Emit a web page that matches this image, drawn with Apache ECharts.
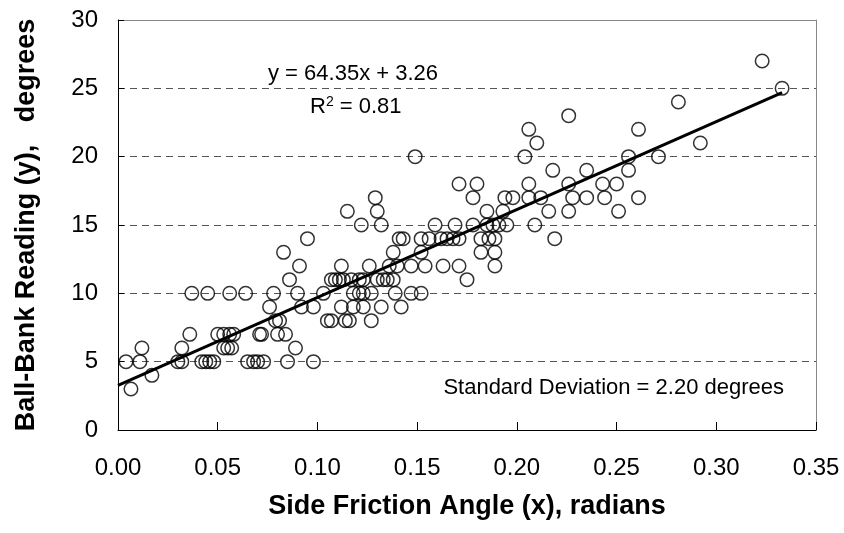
<!DOCTYPE html>
<html>
<head>
<meta charset="utf-8">
<script src="https://cdn.jsdelivr.net/npm/echarts@6/dist/echarts.min.js"></script>
<style>
html,body{margin:0;padding:0;background:#fff;}
#chart{width:844px;height:533px;}
</style>
</head>
<body>
<div id="chart"></div>
<script>
// ---- data ----
const sideFrictionAngle = [
  0.0065,
  0.017,
  0.004, 0.011, 0.030, 0.032, 0.042, 0.044, 0.046, 0.048, 0.065, 0.068, 0.070, 0.073, 0.085, 0.098,
  0.012, 0.032, 0.053, 0.055, 0.057, 0.089,
  0.036, 0.050, 0.053, 0.056, 0.058, 0.071, 0.072, 0.080, 0.084,
  0.079, 0.081, 0.105, 0.107, 0.114, 0.116, 0.127,
  0.076, 0.092, 0.098, 0.112, 0.118, 0.123, 0.132, 0.142,
  0.037, 0.045, 0.056, 0.064, 0.078, 0.090, 0.103, 0.118, 0.121, 0.123, 0.127, 0.139, 0.147, 0.152,
  0.086, 0.107, 0.109, 0.111, 0.113, 0.117, 0.121, 0.123, 0.130, 0.133, 0.135, 0.138, 0.175,
  0.091, 0.112, 0.126, 0.136, 0.140, 0.147, 0.154, 0.163, 0.171, 0.189,
  0.083, 0.138, 0.152, 0.182, 0.189,
  0.095, 0.141, 0.143, 0.152, 0.156, 0.162, 0.165, 0.168, 0.171, 0.182, 0.186, 0.189, 0.219,
  0.122, 0.132, 0.159, 0.169, 0.178, 0.185, 0.188, 0.191, 0.195, 0.209,
  0.115, 0.130, 0.185, 0.193, 0.216, 0.226, 0.251,
  0.129, 0.178, 0.194, 0.198, 0.206, 0.212, 0.228, 0.235, 0.244, 0.261,
  0.171, 0.180, 0.206, 0.226, 0.243, 0.250,
  0.218, 0.235, 0.256,
  0.149, 0.204, 0.256, 0.271,
  0.210, 0.292,
  0.206, 0.261,
  0.226,
  0.281,
  0.333,
  0.323
];
const ballBankReading = [
  3,
  4,
  5, 5, 5, 5, 5, 5, 5, 5, 5, 5, 5, 5, 5, 5,
  6, 6, 6, 6, 6, 6,
  7, 7, 7, 7, 7, 7, 7, 7, 7,
  8, 8, 8, 8, 8, 8, 8,
  9, 9, 9, 9, 9, 9, 9, 9,
  10, 10, 10, 10, 10, 10, 10, 10, 10, 10, 10, 10, 10, 10,
  11, 11, 11, 11, 11, 11, 11, 11, 11, 11, 11, 11, 11,
  12, 12, 12, 12, 12, 12, 12, 12, 12, 12,
  13, 13, 13, 13, 13,
  14, 14, 14, 14, 14, 14, 14, 14, 14, 14, 14, 14, 14,
  15, 15, 15, 15, 15, 15, 15, 15, 15, 15,
  16, 16, 16, 16, 16, 16, 16,
  17, 17, 17, 17, 17, 17, 17, 17, 17, 17,
  18, 18, 18, 18, 18, 18,
  19, 19, 19,
  20, 20, 20, 20,
  21, 21,
  22, 22,
  23,
  24,
  25,
  27
];
const regressionSlope = 64.35;
const regressionIntercept = 3.26;
const trendRangeX = [0, 0.333];
const xTicks = [0, 0.05, 0.10, 0.15, 0.20, 0.25, 0.30, 0.35];
const yTicks = [0, 5, 10, 15, 20, 25, 30];
const equationText = 'y = 64.35x + 3.26';
const rSquaredText = '0.81';
const stdDevText = 'Standard Deviation = 2.20 degrees';

// ---- build series data ----
const points = sideFrictionAngle.map((x, i) => [x, ballBankReading[i]]);
const trendLine = trendRangeX.map(x => [x, regressionSlope * x + regressionIntercept]);

const FONT = "'Liberation Sans', Arial, sans-serif";
const chart = echarts.init(document.getElementById('chart'), null, {renderer: 'canvas'});

chart.setOption({
  animation: false,
  backgroundColor: '#fff',
  textStyle: {fontFamily: FONT},
  grid: {left: 118, right: 28, top: 20, bottom: 103, containLabel: false},
  xAxis: [{
    type: 'value',
    min: xTicks[0], max: xTicks[xTicks.length - 1], interval: xTicks[1] - xTicks[0],
    axisLine: {lineStyle: {color: '#000', width: 1}},
    axisTick: {inside: true, length: 8, lineStyle: {color: '#000'}},
    axisLabel: {formatter: v => v.toFixed(2), fontSize: 24, color: '#000', margin: 26, fontFamily: FONT},
    splitLine: {show: false},
    name: 'Side Friction Angle (x), radians',
    nameLocation: 'middle', nameGap: 63,
    nameTextStyle: {fontWeight: 'bold', fontSize: 27, color: '#000', fontFamily: FONT}
  }, {
    type: 'value', position: 'top',
    min: xTicks[0], max: xTicks[xTicks.length - 1],
    axisLine: {show: true, onZero: false, lineStyle: {color: '#888', width: 1}},
    axisTick: {show: false}, axisLabel: {show: false}, splitLine: {show: false}
  }],
  yAxis: [{
    type: 'value',
    min: yTicks[0], max: yTicks[yTicks.length - 1], interval: yTicks[1] - yTicks[0],
    axisLine: {show: true, lineStyle: {color: '#000', width: 1}},
    axisTick: {show: true, inside: true, length: 6, lineStyle: {color: '#000'}},
    axisLabel: {fontSize: 24, color: '#000', margin: 20, fontFamily: FONT},
    splitLine: {show: true, lineStyle: {color: '#555', width: 1, type: [7, 5]}},
    name: 'Ball-Bank Reading (y),   degrees',
    nameLocation: 'middle', nameGap: 78, nameRotate: 90,
    nameTextStyle: {fontWeight: 'bold', fontSize: 27, color: '#000', fontFamily: FONT}
  }, {
    type: 'value', position: 'right',
    min: yTicks[0], max: yTicks[yTicks.length - 1],
    axisLine: {show: true, onZero: false, lineStyle: {color: '#888', width: 1}},
    axisTick: {show: false}, axisLabel: {show: false}, splitLine: {show: false}
  }],
  series: [{
    type: 'scatter',
    data: points,
    symbol: 'circle',
    symbolSize: 13.5,
    itemStyle: {color: 'rgba(255,255,255,0)', borderColor: '#000', borderWidth: 1.5},
    z: 2
  }, {
    type: 'line',
    data: trendLine,
    showSymbol: false, symbol: 'none',
    lineStyle: {color: '#000', width: 3},
    z: 3
  }],
  graphic: [{
    type: 'text', left: 268, top: 63,
    style: {text: equationText, fontSize: 22, fill: '#000', fontFamily: FONT}
  }, {
    type: 'text', left: 310, top: 95,
    style: {
      text: 'R{sup|2} = ' + rSquaredText,
      fontSize: 22, fill: '#000', fontFamily: FONT,
      rich: {sup: {fontSize: 14, verticalAlign: 'top', padding: [0, 0, 9, 0], fontFamily: FONT}}
    }
  }, {
    type: 'text', right: 60, top: 377,
    style: {text: stdDevText, fontSize: 22, fill: '#000', fontFamily: FONT}
  }]
});
</script>
</body>
</html>
